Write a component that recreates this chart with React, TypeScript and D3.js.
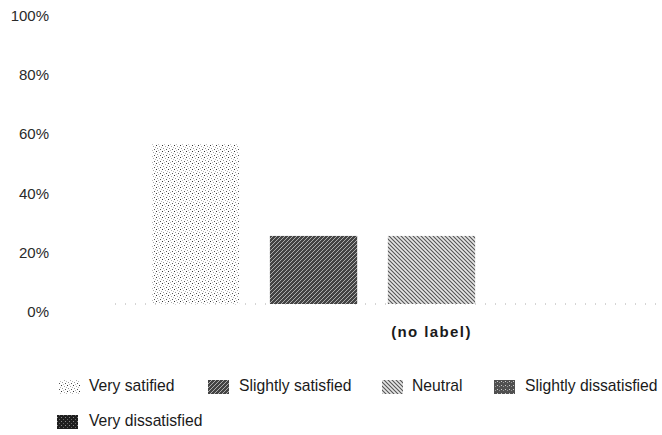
import * as d3 from "d3";

// survey answers, one group with no label
const groups: string[] = ["(no label)"];
const categories: string[] = [
  "Very satified",
  "Slightly satisfied",
  "Neutral",
  "Slightly dissatisfied",
  "Very dissatisfied",
];
const values: number[] = [54, 23, 23, 0, 0];
const yTicks: number[] = [0, 20, 40, 60, 80, 100];

const width = 662;
const height = 435;
const baseY = 304;
const topY = 8;
const font = "'Liberation Sans', Arial, sans-serif";

// legend layout (two rows, as in the scan)
const legendPos = [
  { sx: 59, tx: 89, y: 387 },
  { sx: 208, tx: 239, y: 387 },
  { sx: 382, tx: 412, y: 387 },
  { sx: 494, tx: 525, y: 387 },
  { sx: 57, tx: 89, y: 422 },
];

const Patterns = () => (
  <defs>
    <pattern id="p0" width="6" height="6" patternUnits="userSpaceOnUse">
      <rect width="6" height="6" fill="#fff" />
      <rect x="1" y="1" width="1" height="1" fill="#333" />
      <rect x="4" y="2" width="1" height="1" fill="#aaa" />
      <rect x="2" y="4" width="1" height="1" fill="#999" />
      <rect x="5" y="5" width="1" height="1" fill="#555" />
      <rect x="3" y="0" width="1" height="1" fill="#bbb" />
      <rect x="0" y="3" width="1" height="1" fill="#bbb" />
    </pattern>
    <pattern id="p1" width="4" height="4" patternUnits="userSpaceOnUse">
      <rect width="4" height="4" fill="#444" />
      <path d="M0,4 L4,0 M-1,1 L1,-1 M3,5 L5,3" stroke="#bbb" strokeWidth="0.9" />
    </pattern>
    <pattern id="p2" width="4" height="4" patternUnits="userSpaceOnUse">
      <rect width="4" height="4" fill="#e6e6e6" />
      <path d="M0,0 L4,4 M-1,3 L1,5 M3,-1 L5,1" stroke="#555" strokeWidth="1.1" />
    </pattern>
    <pattern id="p3" width="4" height="4" patternUnits="userSpaceOnUse">
      <rect width="4" height="4" fill="#505050" />
      <rect x="1" y="1" width="1" height="1" fill="#ccc" />
      <rect x="3" y="2" width="1" height="1" fill="#999" />
    </pattern>
    <pattern id="p4" width="4" height="4" patternUnits="userSpaceOnUse">
      <rect width="4" height="4" fill="#1e1e1e" />
      <rect x="1" y="1" width="1" height="1" fill="#888" />
      <rect x="3" y="3" width="1" height="1" fill="#666" />
    </pattern>
  </defs>
);

export default function App() {
  const x0 = d3.scaleBand<string>().domain(groups).range([113, 750]);
  const x1 = d3
    .scaleBand<string>()
    .domain(categories)
    .range([0, x0.bandwidth()])
    .paddingInner(0.26)
    .paddingOuter(0.33);
  const y = d3.scaleLinear().domain([0, 100]).range([baseY, topY]);

  return (
    <svg
      width={width}
      height={height}
      style={{ position: "absolute", left: 0, top: 0, background: "#fff" }}
      fontFamily={font}
    >
      <Patterns />

      {/* y labels, sit a little under their gridline position */}
      {yTicks.map((t) => (
        <text
          key={t}
          x={49}
          y={y(t) + 9}
          textAnchor="end"
          dominantBaseline="middle"
          fontSize={15}
          fill="#2a2a2a"
        >
          {t}%
        </text>
      ))}

      {/* dotted baseline */}
      <line
        x1={115}
        x2={width}
        y1={baseY}
        y2={baseY}
        stroke="#aaa"
        strokeDasharray="1 9"
      />

      {groups.map((g) => (
        <g key={g} transform={`translate(${x0(g)},0)`}>
          {categories.map((c, i) =>
            values[i] > 0 ? (
              <rect
                key={c}
                x={x1(c)}
                y={y(values[i])}
                width={x1.bandwidth()}
                height={y(0) - y(values[i])}
                fill={`url(#p${i})`}
              />
            ) : null
          )}
          <text
            x={x0.bandwidth() / 2}
            y={333}
            textAnchor="middle"
            dominantBaseline="middle"
            fontSize={15}
            fontWeight="bold"
            letterSpacing={1.4}
            fill="#1a1a1a"
          >
            {g}
          </text>
        </g>
      ))}

      {/* legend */}
      {categories.map((c, i) => (
        <g key={c}>
          <rect
            x={legendPos[i].sx}
            y={legendPos[i].y - 7}
            width={21}
            height={14}
            fill={`url(#p${i})`}
          />
          <text
            x={legendPos[i].tx}
            y={legendPos[i].y}
            dominantBaseline="middle"
            fontSize={15.7}
            fill="#1a1a1a"
          >
            {c}
          </text>
        </g>
      ))}
    </svg>
  );
}
